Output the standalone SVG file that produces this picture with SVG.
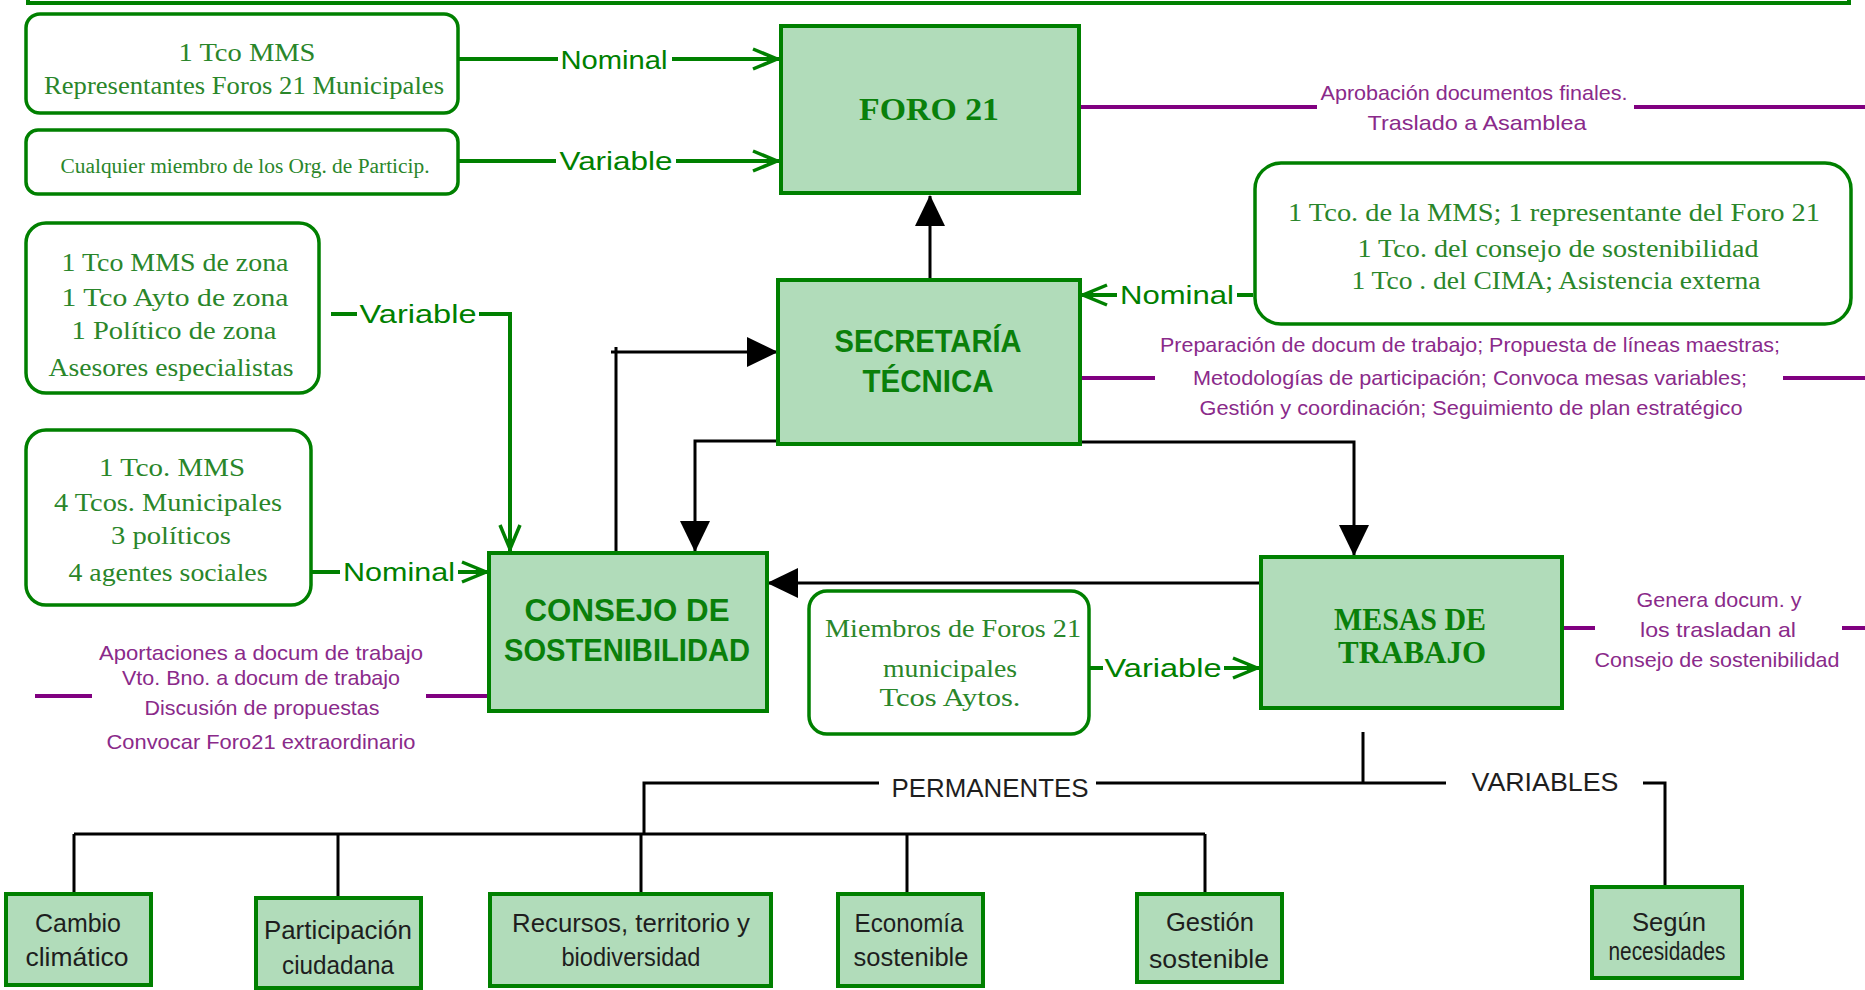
<svg xmlns="http://www.w3.org/2000/svg" width="1865" height="990" viewBox="0 0 1865 990">
<style>
.node{fill:#b1dcba;stroke:#008000;stroke-width:4}
.rbox{fill:#fff;stroke:#008000;stroke-width:3.5}
.st{font-family:"Liberation Serif",serif;font-size:26px;fill:#2a862a;text-anchor:middle}
.sts{font-family:"Liberation Serif",serif;font-size:20px;fill:#2a862a;text-anchor:middle}
.tb{font-family:"Liberation Sans",Arial,sans-serif;font-size:32px;font-weight:bold;fill:#0a800a;text-anchor:middle}
.ts{font-family:"Liberation Serif",serif;font-size:32px;font-weight:bold;fill:#0a800a;text-anchor:middle}
.lbl{font-family:"Liberation Sans",Arial,sans-serif;font-size:26px;fill:#008000;text-anchor:middle}
.pt{font-family:"Liberation Sans",Arial,sans-serif;font-size:21px;fill:#8a2a8a;text-anchor:middle}
.bt{font-family:"Liberation Sans",Arial,sans-serif;font-size:26px;fill:#1e1e1e;text-anchor:middle}
.gl{fill:none;stroke:#008000;stroke-width:4}
.bl{fill:none;stroke:#000;stroke-width:3}
.pl{fill:none;stroke:#800080;stroke-width:4}
</style>
<defs>
<marker id="gch" markerUnits="userSpaceOnUse" markerWidth="30" markerHeight="26" viewBox="0 0 30 26" refX="28" refY="13" orient="auto">
<path d="M2,3 L26,13 L2,23" fill="none" stroke="#008000" stroke-width="3.5"/>
<path d="M16,9 L28,13 L16,17 Z" fill="#008000"/>
</marker>
<marker id="bar" markerUnits="userSpaceOnUse" markerWidth="32" markerHeight="32" viewBox="0 0 32 32" refX="30" refY="16" orient="auto">
<path d="M0,1 L31,16 L0,31 Z" fill="#000"/>
</marker>
</defs>
<rect width="1865" height="990" fill="#fff"/>
<path d="M28,0 V3 H1849 V0" class="gl" stroke-width="5"/>

<g id="connectors">
<!-- green participation connectors -->
<path class="gl" d="M459,59 H558"/>
<path class="gl" d="M672,59 H779" marker-end="url(#gch)"/>
<text class="lbl" x="614" y="69" textLength="107" lengthAdjust="spacingAndGlyphs">Nominal</text>
<path class="gl" d="M459,161 H556"/>
<path class="gl" d="M676,161 H779" marker-end="url(#gch)"/>
<text class="lbl" x="616" y="170" textLength="113" lengthAdjust="spacingAndGlyphs">Variable</text>
<path class="gl" d="M1253,295 H1237"/>
<path class="gl" d="M1117,295 H1081" marker-end="url(#gch)"/>
<text class="lbl" x="1177" y="304" textLength="114" lengthAdjust="spacingAndGlyphs">Nominal</text>
<path class="gl" d="M331,314 H357"/>
<path class="gl" d="M479,314 H510 V551" marker-end="url(#gch)"/>
<text class="lbl" x="418" y="323" textLength="117" lengthAdjust="spacingAndGlyphs">Variable</text>
<path class="gl" d="M310,572 H340"/>
<path class="gl" d="M458,572 H488" marker-end="url(#gch)"/>
<text class="lbl" x="399" y="581" textLength="112" lengthAdjust="spacingAndGlyphs">Nominal</text>
<path class="gl" d="M1090,668 H1103"/>
<path class="gl" d="M1224,668 H1259" marker-end="url(#gch)"/>
<text class="lbl" x="1163" y="677" textLength="117" lengthAdjust="spacingAndGlyphs">Variable</text>

<!-- black structural connectors -->
<path class="bl" d="M930,280 V196" marker-end="url(#bar)"/>
<path class="bl" d="M778,441 H695 V551" marker-end="url(#bar)"/>
<path class="bl" d="M1081,442 H1354 V555" marker-end="url(#bar)"/>
<path class="bl" d="M616,553 V347 M611,352 H777" marker-end="url(#bar)"/>
<path class="bl" d="M1260,583 H768" marker-end="url(#bar)"/>
<path class="bl" d="M1363,732 V783 M1096,783 H1446 M879,783 H644 V834 M1643,783 H1665 V887"/>
<path class="bl" d="M74,834 H1205" stroke-width="5"/>
<path class="bl" d="M74,834 V893 M338,834 V898 M641,834 V893 M907,834 V893 M1205,834 V893"/>
<text class="bt" x="990" y="797" textLength="197" lengthAdjust="spacingAndGlyphs">PERMANENTES</text>
<text class="bt" x="1545" y="791" textLength="147" lengthAdjust="spacingAndGlyphs" fill="#333">VARIABLES</text>

<!-- purple function lines -->
<path class="pl" d="M1081,107 H1317 M1634,107 H1865"/>
<path class="pl" d="M1081,378 H1155 M1783,378 H1865"/>
<path class="pl" d="M35,696 H92 M426,696 H489"/>
<path class="pl" d="M1563,628 H1595 M1842,628 H1865"/>
</g>

<g id="foro21">
<rect class="node" x="781" y="26" width="298" height="167"/>
<text class="ts" x="929" y="120" textLength="140" lengthAdjust="spacingAndGlyphs">FORO 21</text>
</g>
<g id="foro21-funciones">
<text class="pt" x="1474" y="100" textLength="307" lengthAdjust="spacingAndGlyphs">Aprobación documentos finales.</text>
<text class="pt" x="1477" y="130" textLength="219" lengthAdjust="spacingAndGlyphs">Traslado a Asamblea</text>
</g>

<g id="comp-foro-nominal">
<rect class="rbox" x="26" y="14" width="432" height="99" rx="14"/>
<text class="st" x="247" y="61" textLength="137" lengthAdjust="spacingAndGlyphs">1 Tco MMS</text>
<text class="st" x="244" y="94" textLength="400" lengthAdjust="spacingAndGlyphs">Representantes Foros 21 Municipales</text>
</g>
<g id="comp-foro-variable">
<rect class="rbox" x="26" y="130" width="432" height="64" rx="12"/>
<text class="sts" x="245" y="173" textLength="369" lengthAdjust="spacingAndGlyphs">Cualquier miembro de los Org. de Particip.</text>
</g>

<g id="secretaria">
<rect class="node" x="778" y="280" width="302" height="164"/>
<text class="tb" x="928" y="352" textLength="187" lengthAdjust="spacingAndGlyphs">SECRETARÍA</text>
<text class="tb" x="928" y="392" textLength="131" lengthAdjust="spacingAndGlyphs">TÉCNICA</text>
</g>
<g id="secretaria-funciones">
<text class="pt" x="1470" y="352" textLength="620" lengthAdjust="spacingAndGlyphs">Preparación de docum de trabajo; Propuesta de líneas maestras;</text>
<text class="pt" x="1470" y="385" textLength="554" lengthAdjust="spacingAndGlyphs">Metodologías de participación; Convoca mesas variables;</text>
<text class="pt" x="1471" y="415" textLength="543" lengthAdjust="spacingAndGlyphs">Gestión y coordinación; Seguimiento de plan estratégico</text>
</g>
<g id="comp-secretaria">
<rect class="rbox" x="1255" y="163" width="596" height="161" rx="26"/>
<text class="st" x="1554" y="221" textLength="532" lengthAdjust="spacingAndGlyphs">1 Tco. de la MMS; 1 representante del Foro 21</text>
<text class="st" x="1558" y="257" textLength="401" lengthAdjust="spacingAndGlyphs">1 Tco. del consejo de sostenibilidad</text>
<text class="st" x="1556" y="289" textLength="409" lengthAdjust="spacingAndGlyphs">1 Tco . del CIMA; Asistencia externa</text>
</g>

<g id="comp-consejo-variable">
<rect class="rbox" x="26" y="223" width="293" height="170" rx="20"/>
<text class="st" x="175" y="271" textLength="227" lengthAdjust="spacingAndGlyphs">1 Tco MMS de zona</text>
<text class="st" x="175" y="306" textLength="227" lengthAdjust="spacingAndGlyphs">1 Tco Ayto de zona</text>
<text class="st" x="174" y="339" textLength="205" lengthAdjust="spacingAndGlyphs">1 Político de zona</text>
<text class="st" x="171" y="376" textLength="245" lengthAdjust="spacingAndGlyphs">Asesores especialistas</text>
</g>
<g id="comp-consejo-nominal">
<rect class="rbox" x="26" y="430" width="285" height="175" rx="20"/>
<text class="st" x="172" y="476" textLength="146" lengthAdjust="spacingAndGlyphs">1 Tco. MMS</text>
<text class="st" x="168" y="511" textLength="228" lengthAdjust="spacingAndGlyphs">4 Tcos. Municipales</text>
<text class="st" x="171" y="544" textLength="120" lengthAdjust="spacingAndGlyphs">3 políticos</text>
<text class="st" x="168" y="581" textLength="199" lengthAdjust="spacingAndGlyphs">4 agentes sociales</text>
</g>

<g id="consejo">
<rect class="node" x="489" y="553" width="278" height="158"/>
<text class="tb" x="627" y="621" textLength="205" lengthAdjust="spacingAndGlyphs">CONSEJO  DE</text>
<text class="tb" x="627" y="661" textLength="246" lengthAdjust="spacingAndGlyphs">SOSTENIBILIDAD</text>
</g>
<g id="consejo-funciones">
<text class="pt" x="261" y="660" textLength="324" lengthAdjust="spacingAndGlyphs">Aportaciones a docum de trabajo</text>
<text class="pt" x="261" y="685" textLength="278" lengthAdjust="spacingAndGlyphs">Vto. Bno. a docum de trabajo</text>
<text class="pt" x="262" y="715" textLength="235" lengthAdjust="spacingAndGlyphs">Discusión de propuestas</text>
<text class="pt" x="261" y="749" textLength="309" lengthAdjust="spacingAndGlyphs">Convocar Foro21 extraordinario</text>
</g>

<g id="comp-mesas">
<rect class="rbox" x="809" y="591" width="280" height="143" rx="18"/>
<text class="st" x="953" y="637" textLength="256" lengthAdjust="spacingAndGlyphs">Miembros de Foros 21</text>
<text class="st" x="950" y="677" textLength="134" lengthAdjust="spacingAndGlyphs">municipales</text>
<text class="st" x="950" y="706" textLength="141" lengthAdjust="spacingAndGlyphs">Tcos Aytos.</text>
</g>

<g id="mesas">
<rect class="node" x="1261" y="557" width="301" height="151"/>
<text class="ts" x="1410" y="630" font-size="29" textLength="152" lengthAdjust="spacingAndGlyphs">MESAS DE</text>
<text class="ts" x="1412" y="663" font-size="29" textLength="148" lengthAdjust="spacingAndGlyphs">TRABAJO</text>
</g>
<g id="mesas-funciones">
<text class="pt" x="1719" y="607" textLength="165" lengthAdjust="spacingAndGlyphs">Genera docum. y</text>
<text class="pt" x="1718" y="637" textLength="156" lengthAdjust="spacingAndGlyphs">los trasladan al</text>
<text class="pt" x="1717" y="667" textLength="245" lengthAdjust="spacingAndGlyphs">Consejo de sostenibilidad</text>
</g>

<g id="mesa-cambio">
<rect class="node" x="6" y="894" width="145" height="91"/>
<text class="bt" x="78" y="932" textLength="86" lengthAdjust="spacingAndGlyphs">Cambio</text>
<text class="bt" x="77" y="966" textLength="103" lengthAdjust="spacingAndGlyphs">climático</text>
</g>
<g id="mesa-participacion">
<rect class="node" x="256" y="898" width="165" height="90"/>
<text class="bt" x="338" y="939" textLength="148" lengthAdjust="spacingAndGlyphs">Participación</text>
<text class="bt" x="338" y="974" textLength="112" lengthAdjust="spacingAndGlyphs">ciudadana</text>
</g>
<g id="mesa-recursos">
<rect class="node" x="490" y="894" width="281" height="92"/>
<text class="bt" x="631" y="932" textLength="238" lengthAdjust="spacingAndGlyphs">Recursos, territorio y</text>
<text class="bt" x="631" y="966" textLength="139" lengthAdjust="spacingAndGlyphs">biodiversidad</text>
</g>
<g id="mesa-economia">
<rect class="node" x="838" y="894" width="145" height="92"/>
<text class="bt" x="909" y="932" textLength="109" lengthAdjust="spacingAndGlyphs">Economía</text>
<text class="bt" x="911" y="966" textLength="115" lengthAdjust="spacingAndGlyphs">sostenible</text>
</g>
<g id="mesa-gestion">
<rect class="node" x="1137" y="894" width="145" height="88"/>
<text class="bt" x="1210" y="931" textLength="88" lengthAdjust="spacingAndGlyphs">Gestión</text>
<text class="bt" x="1209" y="968" textLength="120" lengthAdjust="spacingAndGlyphs">sostenible</text>
</g>
<g id="mesa-segun">
<rect class="node" x="1592" y="887" width="150" height="91"/>
<text class="bt" x="1669" y="931" textLength="74" lengthAdjust="spacingAndGlyphs">Según</text>
<text class="bt" x="1667" y="960" font-size="20" textLength="117" lengthAdjust="spacingAndGlyphs">necesidades</text>
</g>
</svg>
